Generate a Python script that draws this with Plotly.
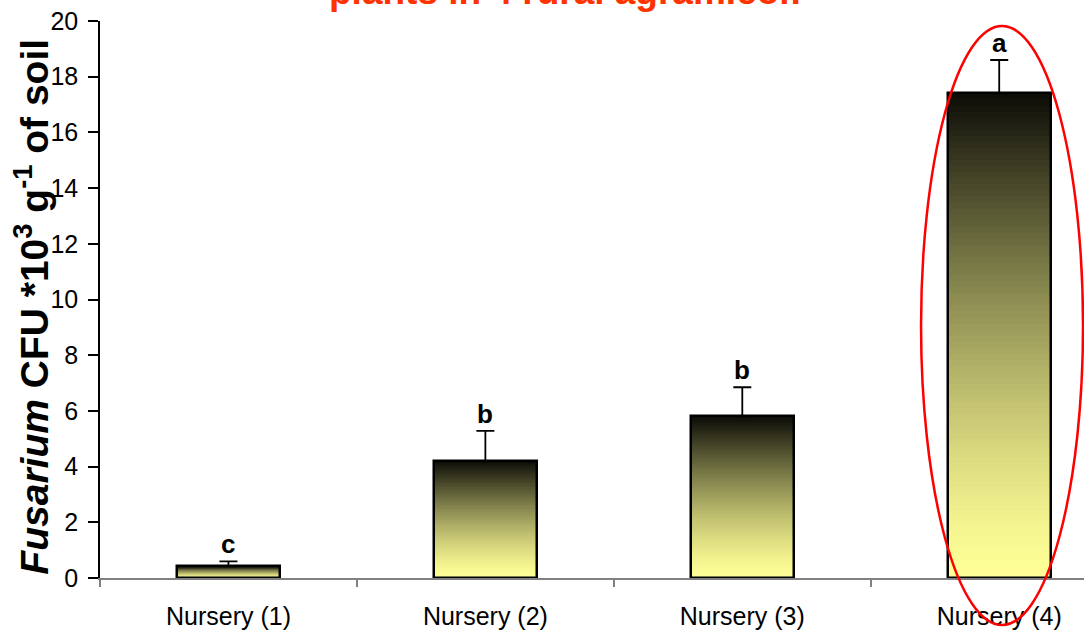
import plotly.graph_objects as go

categories = ["Nursery (1)", "Nursery (2)", "Nursery (3)", "Nursery (4)"]
cfu_means = [0.42, 4.2, 5.8, 17.4]
cfu_errors = [0.18, 1.08, 1.05, 1.2]
letters = ["c", "b", "b", "a"]

FONT = "Arial, 'Liberation Sans', sans-serif"
N_SEG = 80
top_rgb = (14, 14, 8)
bot_rgb = (255, 255, 150)

fig = go.Figure()

# gradient fill: layered bars, each starting higher, coloured from light (bottom) to dark (top)
for k in range(N_SEG):
    f = (k / (N_SEG - 1)) ** 1.35
    col = tuple(round(bot_rgb[j] + (top_rgb[j] - bot_rgb[j]) * f) for j in range(3))
    bases = [v * k / N_SEG for v in cfu_means]
    heights = [v - b for v, b in zip(cfu_means, bases)]
    fig.add_trace(go.Bar(
        x=categories, y=heights, base=bases, width=0.4,
        marker=dict(color="rgb(%d,%d,%d)" % col, line=dict(width=0)),
        hoverinfo="skip", showlegend=False,
    ))

# outline
fig.add_trace(go.Bar(
    x=categories, y=cfu_means, base=[0] * 4, width=0.4,
    marker=dict(color="rgba(0,0,0,0)", line=dict(color="black", width=2.5)),
    showlegend=False,
))

# error bars (upper only)
fig.add_trace(go.Scatter(
    x=categories, y=cfu_means, mode="markers",
    marker=dict(size=1, color="rgba(0,0,0,0)"),
    error_y=dict(type="data", symmetric=False, array=cfu_errors, arrayminus=[0] * 4,
                 color="black", thickness=1.8, width=9),
    showlegend=False,
))

for c, v, e, l in zip(categories, cfu_means, cfu_errors, letters):
    fig.add_annotation(x=c, y=v + e, text="<b>%s</b>" % l, showarrow=False,
                       yanchor="bottom", yshift=0,
                       font=dict(family=FONT, size=26, color="black"))

# partially visible title
fig.add_annotation(xref="paper", yref="paper", x=0.473, y=1.012, yanchor="bottom",
                   text="<b>plants in 4 rural agramicol:</b>", showarrow=False,
                   font=dict(family=FONT, size=37, color="#ff3300"))

# y-axis title
fig.add_annotation(xref="paper", yref="paper", x=-0.0705, y=0.4865,
                   xanchor="center", yanchor="middle", textangle=-90, showarrow=False,
                   text="<b><i>Fusarium</i> CFU *10<sup>3</sup> g<sup>-1</sup> of soil</b>",
                   font=dict(family=FONT, size=39, color="black"))

# red ellipse highlight
fig.add_shape(type="circle", xref="paper", yref="paper",
              x0=0.8344, x1=0.999, y0=-0.0844, y1=0.991,
              line=dict(color="#ff0000", width=2.5), layer="above")

fig.update_layout(
    width=1084, height=632,
    margin=dict(l=100, r=0, t=21, b=54),
    paper_bgcolor="white", plot_bgcolor="white",
    barmode="overlay", bargap=0,
    font=dict(family=FONT, color="black"),
    xaxis=dict(
        type="category", range=[-0.5, 3.33],
        showline=True, linecolor="#808080", linewidth=2,
        ticks="outside", tickson="boundaries", ticklen=7, tickcolor="#808080", tickwidth=1.5,
        tickfont=dict(family=FONT, size=25, color="black"), ticklabelstandoff=15,
        showgrid=False, zeroline=False,
    ),
    yaxis=dict(
        range=[0, 20], tickvals=list(range(0, 21, 2)),
        showline=True, linecolor="black", linewidth=1.5,
        ticks="outside", ticklen=10, tickcolor="black", tickwidth=1.5,
        tickfont=dict(family=FONT, size=25, color="black"), ticklabelstandoff=5,
        showgrid=False, zeroline=False,
    ),
)

fig.write_html("out.html", config={"displayModeBar": False},
               post_script="document.body.style.margin='0';document.body.style.overflow='hidden';")
